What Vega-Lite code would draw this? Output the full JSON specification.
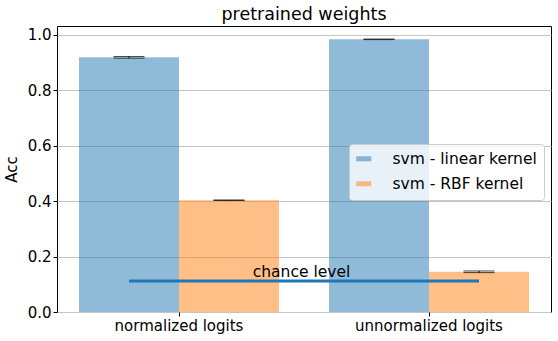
{
  "$schema": "https://vega.github.io/schema/vega-lite/v6.json",
  "autosize": "none",
  "width": 494,
  "height": 286,
  "padding": {"left": 57, "top": 26, "right": 7, "bottom": 29},
  "title": {"text": "pretrained weights", "fontSize": 17.5, "font": "DejaVu Sans", "fontWeight": "normal", "color": "black", "offset": 3},
  "config": {
    "font": "DejaVu Sans",
    "view": {"stroke": "black", "strokeWidth": 1},
    "axis": {"labelFontSize": 15, "labelColor": "black", "tickColor": "black", "tickSize": 4, "domain": false, "titleFontSize": 15, "titleFontWeight": "normal", "titleColor": "black", "labelFont": "DejaVu Sans", "titleFont": "DejaVu Sans"}
  },
  "datasets": {
    "bars": [
      {"group": "normalized logits", "model": "svm - linear kernel", "value": 0.918, "lo": 0.915, "hi": 0.921},
      {"group": "normalized logits", "model": "svm - RBF kernel", "value": 0.403, "lo": 0.402, "hi": 0.404},
      {"group": "unnormalized logits", "model": "svm - linear kernel", "value": 0.983, "lo": 0.982, "hi": 0.984},
      {"group": "unnormalized logits", "model": "svm - RBF kernel", "value": 0.145, "lo": 0.142, "hi": 0.148}
    ],
    "chance": [{"x": -0.2, "x2": 1.2, "y": 0.112, "label": "chance level", "xm": 0.49}]
  },
  "resolve": {"scale": {"x": "independent"}},
  "layer": [
    {
      "data": {"name": "bars"},
      "layer": [
        {
          "mark": {"type": "bar", "opacity": 0.5},
          "encoding": {
            "x": {"field": "group", "type": "nominal", "scale": {"paddingInner": 0.2, "paddingOuter": 0.088}, "axis": {"title": null, "labelAngle": 0, "grid": false}},
            "xOffset": {"field": "model", "type": "nominal", "sort": ["svm - linear kernel", "svm - RBF kernel"], "scale": {"paddingInner": 0, "paddingOuter": 0}},
            "y": {"field": "value", "type": "quantitative", "scale": {"domain": [0, 1.031], "nice": false}, "axis": {"title": "Acc", "values": [0, 0.2, 0.4, 0.6, 0.8, 1.0], "format": ".1f", "grid": true, "gridColor": "#c4c4c4", "gridWidth": 1, "titlePadding": 8}},
            "color": {"field": "model", "type": "nominal", "sort": ["svm - linear kernel", "svm - RBF kernel"], "scale": {"domain": ["svm - linear kernel", "svm - RBF kernel"], "range": ["#1f77b4", "#ff7f0e"]},
              "legend": {"title": null, "orient": "none", "legendX": 292, "legendY": 118, "labelFontSize": 15.5, "labelColor": "black", "symbolType": "M-1.5,-0.5H1.5V0.5H-1.5Z", "symbolSize": 100, "symbolOpacity": 0.5, "symbolStrokeWidth": 0, "labelOffset": 21, "rowPadding": 8, "padding": 7, "fillColor": "rgba(255,255,255,0.8)", "strokeColor": "#cccccc", "cornerRadius": 3}}
          }
        },
        {
          "mark": {"type": "rule", "color": "black", "strokeWidth": 1},
          "encoding": {
            "x": {"field": "group", "type": "nominal"},
            "xOffset": {"field": "model", "type": "nominal", "sort": ["svm - linear kernel", "svm - RBF kernel"]},
            "y": {"field": "lo", "type": "quantitative"},
            "y2": {"field": "hi"}
          }
        },
        {
          "mark": {"type": "tick", "color": "black", "size": 31, "thickness": 1, "orient": "horizontal"},
          "encoding": {
            "x": {"field": "group", "type": "nominal"},
            "xOffset": {"field": "model", "type": "nominal", "sort": ["svm - linear kernel", "svm - RBF kernel"]},
            "y": {"field": "lo", "type": "quantitative"}
          }
        },
        {
          "mark": {"type": "tick", "color": "black", "size": 31, "thickness": 1, "orient": "horizontal"},
          "encoding": {
            "x": {"field": "group", "type": "nominal"},
            "xOffset": {"field": "model", "type": "nominal", "sort": ["svm - linear kernel", "svm - RBF kernel"]},
            "y": {"field": "hi", "type": "quantitative"}
          }
        }
      ]
    },
    {
      "data": {"name": "chance"},
      "layer": [
        {
          "mark": {"type": "rule", "color": "#1f77b4", "strokeWidth": 3},
          "encoding": {
            "x": {"field": "x", "type": "quantitative", "scale": {"domain": [-0.488, 1.488], "nice": false, "zero": false}, "axis": null},
            "x2": {"field": "x2"},
            "y": {"field": "y", "type": "quantitative"}
          }
        },
        {
          "mark": {"type": "text", "fontSize": 15.5, "color": "black", "baseline": "bottom", "dy": -1},
          "encoding": {
            "x": {"field": "xm", "type": "quantitative", "scale": {"domain": [-0.488, 1.488], "nice": false, "zero": false}, "axis": null},
            "y": {"field": "y", "type": "quantitative"},
            "text": {"field": "label"}
          }
        }
      ]
    }
  ]
}
